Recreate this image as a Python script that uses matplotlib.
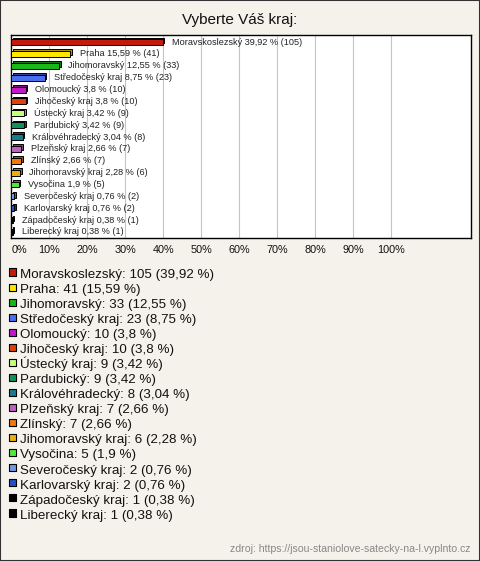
import matplotlib
matplotlib.use("Agg")
import matplotlib.pyplot as plt
import matplotlib.transforms as mtransforms
from matplotlib.colors import to_rgb
from matplotlib.patches import Rectangle

plt.rcParams['font.family'] = ['Liberation Sans', 'DejaVu Sans']

title = "Vyberte Váš kraj:"
categories = ["Moravskoslezský", "Praha", "Jihomoravský", "Středočeský kraj", "Olomoucký",
              "Jihočeský kraj", "Ústecký kraj", "Pardubický", "Královéhradecký", "Plzeňský kraj",
              "Zlínský", "Jihomoravský kraj", "Vysočina", "Severočeský kraj", "Karlovarský kraj",
              "Západočeský kraj", "Liberecký kraj"]
counts = [105, 41, 33, 23, 10, 10, 9, 9, 8, 7, 7, 6, 5, 2, 2, 1, 1]
percents = [39.92, 15.59, 12.55, 8.75, 3.8, 3.8, 3.42, 3.42, 3.04, 2.66, 2.66, 2.28, 1.9,
            0.76, 0.76, 0.38, 0.38]
colors = ['#C41A0C', '#FFE600', '#18B818', '#4A6EF0', '#C418C8', '#E0400C', '#C8FF7A',
          '#14905A', '#1A7A8E', '#C060C0', '#F07810', '#E8B010', '#50E83C', '#6E9AE6',
          '#2850C0', '#000000', '#000000']
xticks = [0, 10, 20, 30, 40, 50, 60, 70, 80, 90, 100]
source = "zdroj: https://jsou-staniolove-satecky-na-l.vyplnto.cz"

W, H = 480, 561
BG = '#F4F2EA'
fig = plt.figure(figsize=(W / 100, H / 100), dpi=100, facecolor=BG)

def fx(px):
    return px / W

def fy(py):
    return 1 - py / H

# outer frame
fig.patches.append(Rectangle((0, 0), 1, 1, transform=fig.transFigure, fill=False,
                             edgecolor='#333333', linewidth=1.5))

fig.text(0.5, fy(20), title, ha='center', va='center', fontsize=11, color='#111111')

# bar chart
left, right, top, bottom = 11.3, 470.7, 35, 238.5
ax = fig.add_axes([fx(left), fy(bottom), fx(right - left), (bottom - top) / H])
ax.set_facecolor('white')
n = len(categories)
ypos = list(range(n))
ax.set_xlim(0, 121)
ax.set_ylim(n - 0.45, -0.6)
ax.set_xticks(xticks)
ax.set_xticklabels([f"{t}%" for t in xticks], fontsize=7.8, color='#111111')
ax.get_xticklabels()[0].set_horizontalalignment('left')
ax.set_yticks([])
ax.tick_params(axis='x', length=0, pad=5)
for t in xticks[1:]:
    ax.axvline(t, color='#C4C4C4', linewidth=0.8, zorder=0)
for s in ax.spines.values():
    s.set_linewidth(1.0)
    s.set_color('#000000')

def darken(c, f=0.35):
    r, g, b = to_rgb(c)
    return (r * (1 - f), g * (1 - f), b * (1 - f))

back_tr = mtransforms.offset_copy(ax.transData, fig=fig, x=1.6, y=1.6, units='dots')
bh = 0.5
for i, (p, c) in enumerate(zip(percents, colors)):
    ax.barh(i, p, height=bh, color=darken(c), edgecolor='black', linewidth=0.7,
            transform=back_tr, zorder=2)
    ax.barh(i, p, height=bh, color=c, edgecolor='black', linewidth=0.7, zorder=3)

def fmt(p):
    return f"{p:g}".replace('.', ',')

for i, (name, p, cnt) in enumerate(zip(categories, percents, counts)):
    ax.annotate(f"{name} {fmt(p)} % ({cnt})", xy=(p, i), xytext=(6.8, 0),
                textcoords='offset points', ha='left', va='center',
                fontsize=6.6, color='#222222', zorder=4)

# legend
l_top, l_step = 272.0, 15.06
y0 = l_top - 0.5 * l_step
y1 = l_top + (n - 0.5) * l_step
lax = fig.add_axes([0, fy(y1), 1, (y1 - y0) / H])
lax.set_axis_off()
lax.set_xlim(0, W)
lax.set_ylim(n - 0.5, -0.5)
lax.scatter([12.3] * n, ypos, marker='s', s=26, c=colors, edgecolors='black', linewidths=0.8)
for i, (name, p, cnt) in enumerate(zip(categories, percents, counts)):
    lax.text(20, i + 0.38, f"{name}: {cnt} ({fmt(p)} %)", ha='left', va='baseline',
             fontsize=9.6, color='#111111')

fig.text(fx(470), fy(549), source, ha='right', va='center', fontsize=7.6, color='#888888')

fig.savefig("out.png", dpi=100, facecolor=BG)
